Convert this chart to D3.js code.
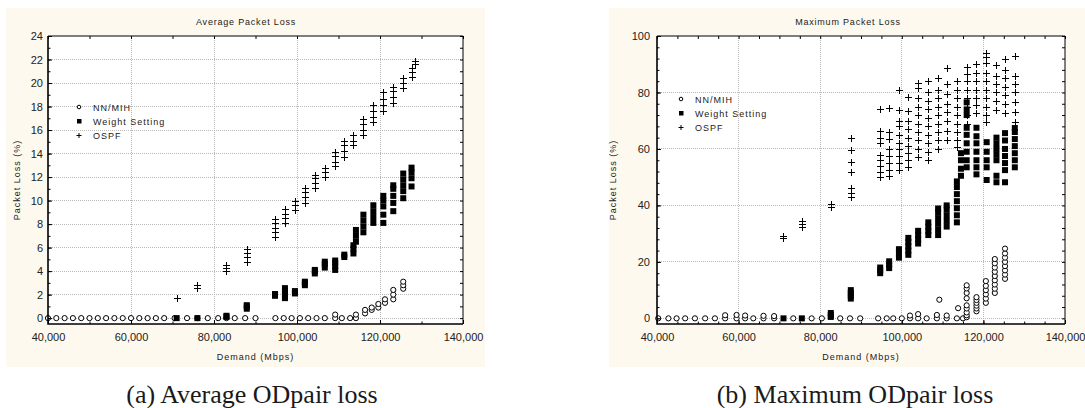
<!DOCTYPE html>
<html>
<head>
<meta charset="utf-8">
<script src="https://cdn.jsdelivr.net/npm/d3@7"></script>
<style>
  body { margin: 0; background: #fff; }
  svg { display: block; font-family: "Liberation Sans", Arial, sans-serif; }
</style>
</head>
<body>
<svg id="chart" width="1085" height="408"></svg>
<script>
// demand (Mbps) / packet loss (%)
const xTickValues = [40000, 60000, 80000, 100000, 120000, 140000];
const avgYTickValues = [0, 2, 4, 6, 8, 10, 12, 14, 16, 18, 20, 22, 24];
const maxYTickValues = [0, 20, 40, 60, 80, 100];
const legendLabels = ['NN/MIH', 'Weight Setting', 'OSPF'];

// (a) average loss
const avgNnMih = [
  [40000,0],[42000,0],[44000,0],[46000,0],[48000,0],[50000,0],[52000,0],[54000,0],[56000,0],[58000,0],
  [60000,0],[62000,0],[64000,0],[66000,0],[68000,0],[70500,0],[73500,0],[76000,0],[78500,0],[81000,0],
  [83000,0],[85000,0],[87500,0],[90000,0],[94800,0],[96800,0],[98700,0],[100700,0],[102700,0],[104700,0],
  [106700,0],[109200,0],[109200,0.3],[110800,0],[112800,0],[114200,0],[114200,0.3],[116400,0.4],[116400,0.7],
  [118000,0.7],[118000,0.9],[119600,0.9],[119600,1.2],[121200,1.3],[121200,1.6],[123200,1.6],[123200,2.0],
  [123200,2.4],[125600,2.5],[125600,2.8],[125600,3.1]
];
const avgWeight = [
  [71000,0],[76000,0],[83000,0.1],[83000,0.2],[87900,0.8],[87900,1.0],[87900,1.1],
  [94700,1.9],[94700,2.05],[97100,1.7],[97100,2.0],[97100,2.3],[97100,2.55],[99500,2.1],[99500,2.3],
  [101900,2.8],[101900,3.0],[101900,3.1],[104300,3.8],[104300,4.0],[104300,4.1],
  [106700,4.3],[106700,4.6],[106700,4.8],[109200,4.1],[109200,4.4],[109200,4.7],[109200,4.9],
  [111400,5.2],[111400,5.4],[113600,5.5],[113600,5.9],[113600,6.2],[114200,6.5],[114200,7.0],[114200,7.5],
  [116000,7.3],[116000,7.8],[116000,8.3],[116000,8.8],[118400,8.1],[118400,8.6],[118400,9.1],[118400,9.6],
  [120800,8.1],[120800,8.8],[120800,9.5],[120800,10.0],[120800,10.4],
  [123200,9.1],[123200,9.8],[123200,10.4],[123200,11.0],[123200,11.3],
  [125600,10.2],[125600,10.8],[125600,11.3],[125600,11.8],[125600,12.3],
  [127600,11.2],[127600,11.9],[127600,12.4],[127600,12.8]
];
const avgOspf = [
  [71000,1.7],[76000,2.6],[76000,2.8],[83000,4.0],[83000,4.3],[83000,4.5],
  [88000,4.8],[88000,5.2],[88000,5.5],[88000,5.9],
  [94700,6.9],[94700,7.3],[94700,7.7],[94700,8.1],[94700,8.4],
  [97100,8.1],[97100,8.5],[97100,8.9],[97100,9.3],[99500,9.2],[99500,9.6],[99500,10.0],
  [101900,9.8],[101900,10.3],[101900,10.7],[101900,11.1],[104300,11.1],[104300,11.5],[104300,11.9],[104300,12.2],
  [106700,12.0],[106700,12.4],[106700,12.8],[109200,12.9],[109200,13.3],[109200,13.8],[109200,14.1],
  [111400,13.7],[111400,14.2],[111400,14.7],[111400,15.1],[113600,14.7],[113600,15.1],[113600,15.6],
  [116000,15.6],[116000,16.0],[116000,16.5],[116000,16.9],[118400,16.7],[118400,17.1],[118400,17.6],[118400,18.1],
  [120800,17.6],[120800,18.1],[120800,18.6],[120800,19.2],[123200,18.3],[123200,18.8],[123200,19.3],[123200,19.7],
  [125600,19.6],[125600,20.0],[125600,20.4],[127600,20.5],[127600,20.9],[127600,21.3],[128400,21.6],[128400,21.9]
];

// (b) maximum loss
const maxNnMih = [
  [40300,0],[42800,0],[44800,0],[46900,0],[49300,0],[51800,0],[54200,0],[56700,0],[56700,1.1],[59500,0],
  [59500,1.2],[61600,0],[61600,1.0],[63600,0],[66100,0],[66100,0.9],[68700,0],[68700,0.8],[73400,0],[77900,0],
  [80400,0],[84900,0],[87300,0],[89800,0],[94200,0],[96300,0],[97900,0],[100000,0],[102000,0],[102000,1.0],
  [104000,0],[104000,1.5],[106100,0],[108600,0],[108600,1.2],[109200,6.6],[111000,0],[111000,1.0],[113500,0],
  [113800,3.6],[115000,0],[115900,0.4],[115900,1.1],[115900,2.1],[115900,3.5],[115900,4.6],[115900,7.1],
  [115900,9.0],[115900,10.6],[115900,11.7],
  [118300,2.5],[118300,3.5],[118300,4.5],[118300,5.5],[118300,6.5],[118300,7.5],
  [120600,5.5],[120600,7],[120600,8.5],[120600,10],[120600,11.5],[120600,13.2],
  [122800,9],[122800,10.5],[122800,12],[122800,13.5],[122800,15],[122800,16.5],[122800,18],[122800,19.5],[122800,21],
  [125300,14],[125300,15.5],[125300,17],[125300,18.5],[125300,20],[125300,21.5],[125300,23],[125300,24.7]
];
const maxWeight = [
  [71000,0],[75500,0],[82600,0.5],[82600,1.2],[82600,1.9],[87500,7],[87500,8],[87500,9],[87500,10],
  [94700,16],[94700,17],[94700,18],[96900,17.8],[96900,19],[96900,20.2],[99300,21.5],[99300,23],[99300,24.5],
  [101600,22.5],[101600,24],[101600,25.5],[101600,27],[101600,28.5],[104000,26.5],[104000,28],[104000,29.5],[104000,31],
  [106500,29.5],[106500,31],[106500,32.5],[106500,34],
  [108900,29.5],[108900,31.5],[108900,33.5],[108900,35.5],[108900,37.5],[108900,38.9],
  [111000,32.5],[111000,34.5],[111000,36.5],[111000,38.5],[111000,40],
  [113500,34],[113500,36.5],[113500,39],[113500,41.5],[113500,44],[113500,46.5],[113500,48.5],
  [114500,50.5],[114500,53],[114500,56],[114500,58.5],
  [115900,53.5],[115900,56],[115900,59],[115900,62],[115900,65],[115900,67.5],[115900,72],[115900,74],[115900,76.5],
  [118300,51],[118300,53.5],[118300,56],[118300,59],[118300,62],[118300,64.5],[118300,67.5],
  [120800,49],[120800,53.5],[120800,56],[120800,59],[120800,62.4],
  [123200,48.2],[123200,50.5],[123200,56],[123200,58],[123200,60],[123200,62],[123200,64],
  [125300,48.2],[125300,52.5],[125300,55],[125300,57.5],[125300,60],[125300,63],[125300,65.6],
  [127700,53.5],[127700,56],[127700,58.5],[127700,61],[127700,63.5],[127700,66],[127700,67.4]
];
const maxOspf = [
  [71000,28.5],[71000,29.2],[75500,32.5],[75500,33.5],[75500,34.5],[82600,39.3],[82600,40.5],
  [87500,43],[87500,44.5],[87500,46],[87500,52],[87500,55.5],[87500,59.6],[87500,63.8],
  [94700,50],[94700,52],[94700,54],[94700,56],[94700,58],[94700,62],[94700,64],[94700,66.5],[94700,74],
  [96900,50.5],[96900,52.5],[96900,55],[96900,57.5],[96900,60],[96900,63.5],[96900,66],[96900,74.5],
  [99300,52.5],[99300,55],[99300,57.5],[99300,60],[99300,62],[99300,65],[99300,68],[99300,70],[99300,73.8],[99300,80.8],
  [101500,53.5],[101500,56],[101500,58.5],[101500,61],[101500,64],[101500,67],[101500,70],[101500,73.5],[101500,78.5],
  [104000,57],[104000,60],[104000,63],[104000,66],[104000,69],[104000,72],[104000,75],[104000,78],[104000,81.6],[104000,83.2],
  [106400,56],[106400,59],[106400,62],[106400,65],[106400,68],[106400,71],[106400,74],[106400,77],[106400,80],[106400,84],
  [108900,60],[108900,63],[108900,66],[108900,69],[108900,72],[108900,75],[108900,78],[108900,81],[108900,85],
  [111100,63],[111100,66.5],[111100,70],[111100,73],[111100,76],[111100,79.5],[111100,83],[111100,88.6],
  [113500,60.6],[113500,63],[113500,66],[113500,69],[113500,72],[113500,75],[113500,78],[113500,81],[113500,84],
  [115900,69],[115900,72],[115900,75],[115900,78],[115900,81],[115900,84],[115900,86.5],[115900,89],
  [118300,72.6],[118300,75.5],[118300,78],[118300,81],[118300,84],[118300,87],[118300,90],
  [120600,69.5],[120600,72],[120600,75],[120600,78],[120600,81],[120600,84],[120600,87],[120600,90.5],[120600,92.5],[120600,94],
  [123100,73.7],[123100,77],[123100,80],[123100,83],[123100,86],[123100,89.7],
  [125400,72.6],[125400,76],[125400,79],[125400,82],[125400,85],[125400,88],[125400,92],
  [127700,69.5],[127700,73],[127700,76.5],[127700,80],[127700,83],[127700,86],[127700,93]
];

const PLUS = 'M-3.5,0H3.5M0,-3.5V3.5';

class ScatterPanel {

    constructor( config, series ) {
        this.config = config;
        this.series = series;
        this.init();
        this.render();
    }

    init() {
        let self = this;
        const c = self.config;

        self.g = d3.select('#chart').append('g');

        self.g.append('rect')
            .attr('x', c.bg[0]).attr('y', c.bg[1])
            .attr('width', c.bg[2]).attr('height', c.bg[3])
            .attr('fill', '#fdf9ee');

        self.xscale = d3.scaleLinear()
            .domain([40000, 140000])
            .range([c.left, c.right]);

        self.yscale = d3.scaleLinear()
            .domain(c.ydomain)
            .range([c.bottom, c.top]);

        self.g.append('rect')
            .attr('x', c.left).attr('y', c.top)
            .attr('width', c.right - c.left).attr('height', c.bottom - c.top)
            .attr('fill', '#fff');

        // dotted grid on the major ticks
        const grid = self.g.append('g')
            .attr('stroke', '#b8b8b8')
            .attr('stroke-dasharray', '1,1')
            .attr('shape-rendering', 'crispEdges');
        grid.selectAll('.gx').data(xTickValues.slice(1, -1)).enter().append('line')
            .attr('x1', d => self.xscale(d)).attr('x2', d => self.xscale(d))
            .attr('y1', c.top).attr('y2', c.bottom);
        grid.selectAll('.gy').data(c.yticks.filter(d => d > c.ydomain[0] && d < c.ydomain[1])).enter().append('line')
            .attr('x1', c.left).attr('x2', c.right)
            .attr('y1', d => self.yscale(d)).attr('y2', d => self.yscale(d));

        self.title = self.g.append('text')
            .attr('x', c.titleX).attr('y', 25)
            .attr('text-anchor', 'middle')
            .attr('font-size', '9px')
            .attr('letter-spacing', '0.8px')
            .attr('fill', '#222')
            .text(c.title);

        self.g.append('text')
            .attr('x', (c.left + c.right) / 2).attr('y', 360)
            .attr('text-anchor', 'middle')
            .attr('font-size', '9px')
            .attr('letter-spacing', '1px')
            .attr('fill', '#222')
            .text('Demand (Mbps)');

        self.g.append('text')
            .attr('transform', `translate(${c.ylabelX}, ${(c.top + c.bottom) / 2}) rotate(-90)`)
            .attr('text-anchor', 'middle')
            .attr('font-size', '9px')
            .attr('letter-spacing', '1px')
            .attr('fill', '#222')
            .text('Packet Loss (%)');

        self.g.append('text')
            .attr('x', c.captionX).attr('y', 403)
            .attr('text-anchor', 'middle')
            .attr('font-family', '"Liberation Serif", "Times New Roman", serif')
            .attr('font-size', '26px')
            .attr('fill', '#1a1a1a')
            .text(c.caption);
    }

    render() {
        let self = this;
        const c = self.config;
        const [nn, ws, ospf] = self.series;

        const marks = self.g.append('g');

        marks.selectAll('.nn').data(nn).enter().append('circle')
            .attr('cx', d => self.xscale(d[0]))
            .attr('cy', d => self.yscale(d[1]))
            .attr('r', 2.6)
            .attr('fill', '#fff')
            .attr('stroke', '#000')
            .attr('stroke-width', 1);

        marks.selectAll('.ws').data(ws).enter().append('rect')
            .attr('x', d => self.xscale(d[0]) - 3)
            .attr('y', d => self.yscale(d[1]) - 3)
            .attr('width', 6).attr('height', 6)
            .attr('fill', '#000');

        marks.selectAll('.os').data(ospf).enter().append('path')
            .attr('transform', d => `translate(${Math.round(self.xscale(d[0])) + 0.5}, ${Math.round(self.yscale(d[1])) + 0.5})`)
            .attr('d', PLUS)
            .attr('stroke', '#000')
            .attr('stroke-width', 1)
            .attr('fill', 'none');

        // axes, ticks pointing inwards
        const h = c.bottom - c.top;
        const w = c.right - c.left;
        const xminor = d3.range(40000, 140001, c.xminor);
        const yminor = d3.range(c.yticks[0], c.ydomain[1] + 0.001, c.yminor);

        const axisStyle = g => {
            g.select('.domain').remove();
            g.selectAll('line').attr('stroke', '#000');
            g.selectAll('text').attr('fill', '#222').attr('font-size', '11px').attr('font-family', '"Liberation Sans", Arial, sans-serif');
        };

        self.g.append('g')
            .attr('transform', `translate(0, ${c.bottom})`)
            .call(d3.axisBottom(self.xscale).tickValues(xminor).tickSize(-2.5).tickFormat(''))
            .call(axisStyle);
        self.g.append('g')
            .attr('transform', `translate(0, ${c.bottom})`)
            .call(d3.axisBottom(self.xscale).tickValues(xTickValues).tickSize(-4).tickPadding(9).tickFormat(d3.format(',')))
            .call(axisStyle);
        self.g.append('g')
            .attr('transform', `translate(0, ${c.top})`)
            .call(d3.axisTop(self.xscale).tickValues(xminor).tickSize(-3).tickFormat(''))
            .call(axisStyle);

        self.g.append('g')
            .attr('transform', `translate(${c.left}, 0)`)
            .call(d3.axisLeft(self.yscale).tickValues(yminor).tickSize(-2.5).tickFormat(''))
            .call(axisStyle);
        self.g.append('g')
            .attr('transform', `translate(${c.left}, 0)`)
            .call(d3.axisLeft(self.yscale).tickValues(c.yticks).tickSize(-4).tickPadding(c.ytickPad))
            .call(axisStyle);
        self.g.append('g')
            .attr('transform', `translate(${c.right}, 0)`)
            .call(d3.axisRight(self.yscale).tickValues(yminor).tickSize(-3).tickFormat(''))
            .call(axisStyle);

        // frame: heavier on the left and bottom
        self.g.append('path')
            .attr('d', `M${c.left},${c.top}H${c.right}V${c.bottom}`)
            .attr('fill', 'none').attr('stroke', '#000').attr('stroke-width', 1);
        self.g.append('path')
            .attr('d', `M${c.left},${c.top}V${c.bottom}H${c.right}`)
            .attr('fill', 'none').attr('stroke', '#000').attr('stroke-width', 1.6);

        // legend
        const legend = self.g.append('g')
            .attr('transform', `translate(${c.legend[0]}, ${c.legend[1]})`);
        legend.append('circle').attr('cx', 0).attr('cy', 0).attr('r', 1.8)
            .attr('fill', '#fff').attr('stroke', '#000').attr('stroke-width', 1);
        legend.append('rect').attr('x', -2).attr('y', 14 - 2).attr('width', 4.5).attr('height', 4.5).attr('fill', '#000');
        legend.append('path').attr('d', 'M-2.5,28.5H2.5M0,26V31').attr('stroke', '#000').attr('stroke-width', 1);
        legend.selectAll('.lt').data(legendLabels).enter().append('text')
            .attr('x', 14)
            .attr('y', (d, i) => i * 14 + 3.5)
            .attr('font-size', '9px')
            .attr('letter-spacing', '1px')
            .attr('fill', '#222')
            .text(d => d);
    }
}

new ScatterPanel({
    bg: [6, 8, 479, 359],
    left: 48, right: 463, top: 36, bottom: 324,
    ydomain: [-0.5, 24], yticks: avgYTickValues, yminor: 1, xminor: 10000,
    ytickPad: 5, ylabelX: 20, titleX: 246, legend: [79, 107],
    title: 'Average Packet Loss', caption: '(a) Average ODpair loss', captionX: 252
}, [avgNnMih, avgWeight, avgOspf]);

new ScatterPanel({
    bg: [609, 8, 476, 359],
    left: 657, right: 1065, top: 36, bottom: 324,
    ydomain: [-2, 100], yticks: maxYTickValues, yminor: 4, xminor: 5000,
    ytickPad: 7, ylabelX: 616, titleX: 848, legend: [681, 99],
    title: 'Maximum Packet Loss', caption: '(b) Maximum ODpair loss', captionX: 855
}, [maxNnMih, maxWeight, maxOspf]);
</script>
</body>
</html>
